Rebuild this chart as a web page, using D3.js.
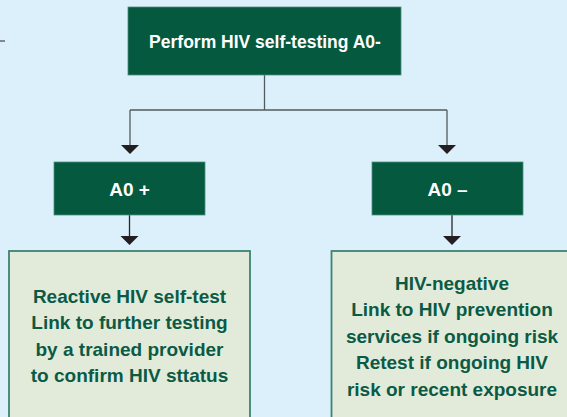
<!DOCTYPE html>
<html>
<head>
<meta charset="utf-8">
<title>HIV self-testing flow</title>
<script src="https://cdn.jsdelivr.net/npm/d3@7"></script>
<style>
  html, body { margin: 0; padding: 0; background: #dcf0fb; }
  svg { display: block; }
  text { font-family: "Liberation Sans Narrow", "Liberation Sans", Arial, sans-serif; font-weight: bold; }
</style>
</head>
<body>
<div id="chart"></div>
<script>
// Data
const rootLabel = "Perform HIV self-testing A0-"
const branches = ["pos", "neg"]
const branchLabels = ["A0 +", "A0 \u2013"]
const outcomeLines = [
    ["Reactive HIV self-test", "Link to further testing", "by a trained provider", "to confirm HIV sttatus"],
    ["HIV-negative", "Link to HIV prevention", "services if ongoing risk", "Retest if ongoing HIV", "risk or recent exposure"]
]

const w = 567
const h = 417
const darkGreen = "#04593f"
const lightFill = "#e2ebda"

const svg = d3.select("#chart")
    .append("svg")
    .attr("width", w)
    .attr("height", h)

svg.append("rect")
    .attr("width", w)
    .attr("height", h)
    .attr("fill", "#dcf0fb")

// Scales
const xSplit = d3.scaleOrdinal().domain(branches).range([130, 447])
const xBranch = d3.scaleOrdinal().domain(branches).range([129.5, 447.5])
const xOutcome = d3.scaleOrdinal().domain(branches).range([129.5, 452])
const y = d3.scaleOrdinal()
    .domain(["rootTop", "rootBottom", "split", "arrow1", "midTop", "midBottom", "arrow2", "outTop"])
    .range([7, 75, 110, 154, 162, 215, 245, 251])
const lineY = d3.scaleLinear().domain([0, 1]).range([0, 26.5])

// small dash at the far left
svg.append("line")
    .attr("x1", 0).attr("x2", 5)
    .attr("y1", 41).attr("y2", 41)
    .attr("stroke", "#6a6f73")
    .attr("stroke-width", 1.6)

// Connectors
const connector = "#555a5e"
svg.append("line")
    .attr("x1", 264.5).attr("x2", 264.5)
    .attr("y1", y("rootBottom")).attr("y2", y("split"))
    .attr("stroke", connector).attr("stroke-width", 1.3)

svg.append("line")
    .attr("x1", xSplit("pos")).attr("x2", xSplit("neg"))
    .attr("y1", y("split")).attr("y2", y("split"))
    .attr("stroke", connector).attr("stroke-width", 1.3)

const arrow = (x, y0, y1) => {
    svg.append("line")
        .attr("x1", x).attr("x2", x)
        .attr("y1", y0).attr("y2", y1 - 8)
        .attr("stroke", "#2a2526").attr("stroke-width", 1.3)
    svg.append("path")
        .attr("d", `M${x - 9},${y1 - 9}L${x + 9},${y1 - 9}L${x},${y1}Z`)
        .attr("fill", "#231f20")
}

branches.forEach(b => {
    svg.append("line")
        .attr("x1", xSplit(b)).attr("x2", xSplit(b))
        .attr("y1", y("split")).attr("y2", y("arrow1") - 8)
        .attr("stroke", connector).attr("stroke-width", 1.3)
    svg.append("path")
        .attr("d", `M${xSplit(b) - 9},${y("arrow1") - 9}L${xSplit(b) + 9},${y("arrow1") - 9}L${xSplit(b)},${y("arrow1")}Z`)
        .attr("fill", "#231f20")
    arrow(xOutcome(b), y("midBottom"), y("arrow2"))
})

// Root box
svg.append("rect")
    .attr("x", 128).attr("y", y("rootTop"))
    .attr("width", 273).attr("height", y("rootBottom") - y("rootTop"))
    .attr("fill", darkGreen)
    .attr("stroke", "#4f8f7f").attr("stroke-width", 0.8)

svg.append("text")
    .attr("x", 265).attr("y", 42)
    .attr("text-anchor", "middle")
    .attr("dominant-baseline", "central")
    .attr("fill", "#ffffff")
    .attr("font-size", 17.5)
    .text(rootLabel)

// Branch boxes
const mid = svg.selectAll(".mid")
    .data(branches)
    .join("g")
    .attr("class", "mid")

mid.append("rect")
    .attr("x", d => xBranch(d) - 75.5)
    .attr("y", y("midTop"))
    .attr("width", 151)
    .attr("height", y("midBottom") - y("midTop"))
    .attr("fill", darkGreen)
    .attr("stroke", "#4f8f7f").attr("stroke-width", 0.8)

mid.append("text")
    .attr("x", d => xBranch(d))
    .attr("y", 189.5)
    .attr("text-anchor", "middle")
    .attr("dominant-baseline", "central")
    .attr("fill", "#ffffff")
    .attr("font-size", 19)
    .text((d, i) => branchLabels[i])

// Outcome boxes
const out = svg.selectAll(".out")
    .data(branches)
    .join("g")
    .attr("class", "out")

out.append("rect")
    .attr("x", d => xOutcome(d) - 120.5)
    .attr("y", y("outTop"))
    .attr("width", 241)
    .attr("height", 200)
    .attr("fill", lightFill)
    .attr("stroke", "#3a8473")
    .attr("stroke-width", 1.8)

out.each(function(d, i) {
    const lines = outcomeLines[i]
    const mid = (lines.length - 1) / 2
    d3.select(this).selectAll("text")
        .data(lines)
        .join("text")
        .attr("x", xOutcome(d))
        .attr("y", (t, j) => 336 + lineY(j - mid))
        .attr("text-anchor", "middle")
        .attr("dominant-baseline", "central")
        .attr("fill", "#0b5a45")
        .attr("font-size", 19)
        .text(t => t)
})
</script>
</body>
</html>
